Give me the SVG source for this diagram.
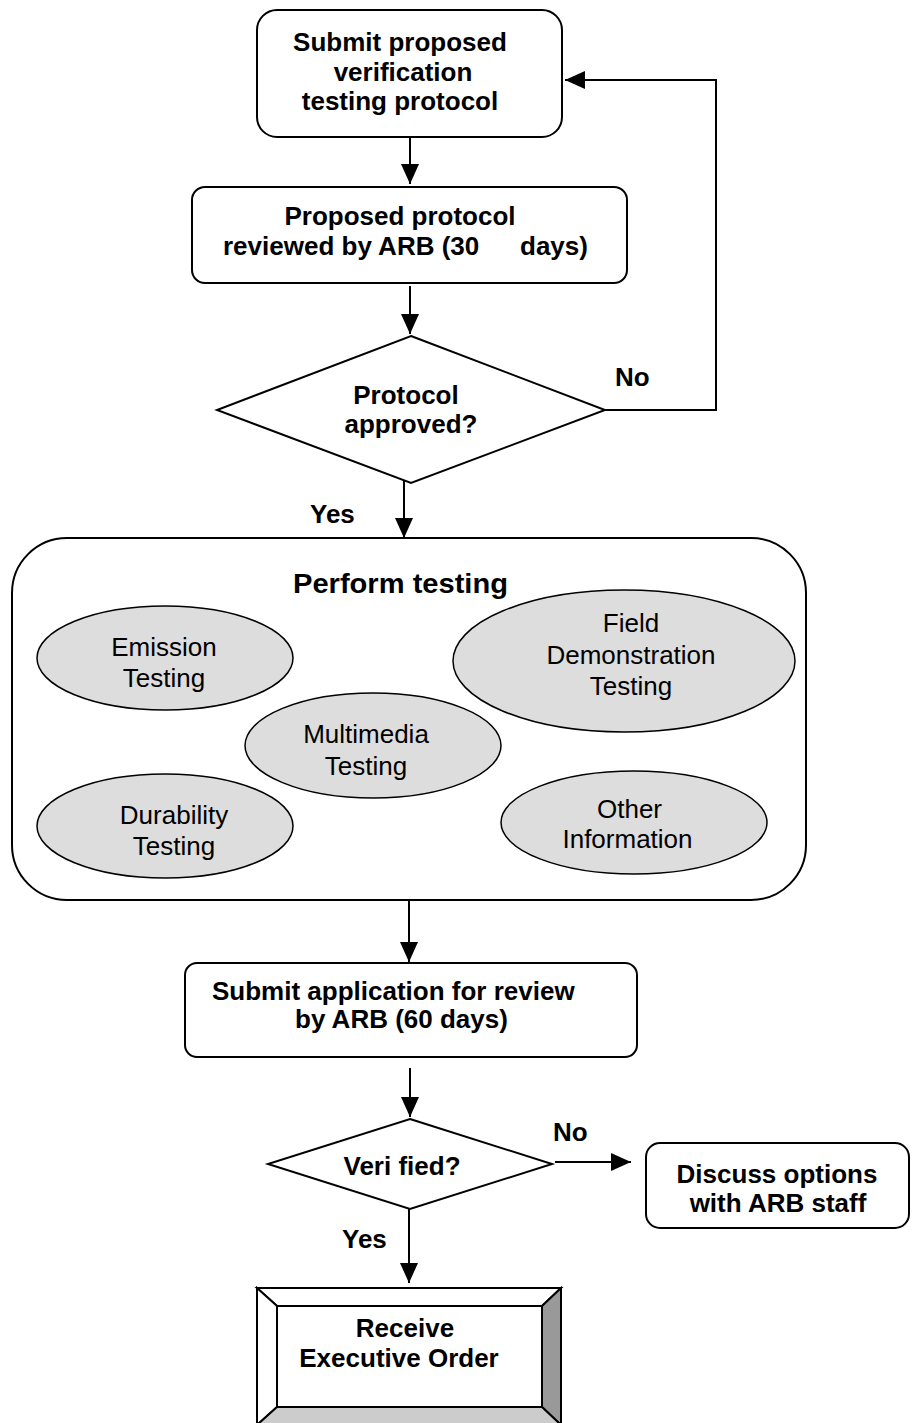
<svg xmlns="http://www.w3.org/2000/svg" width="914" height="1423" viewBox="0 0 914 1423">
<style>
  .box{fill:#fff;stroke:#000;stroke-width:2}
  .ell{fill:#dddddd;stroke:#000;stroke-width:1.5}
  .b{font-family:"Liberation Sans",Arial,sans-serif;font-weight:bold;font-size:26px;fill:#000}
  .r{font-family:"Liberation Sans",Arial,sans-serif;font-size:26px;fill:#000}
  .c{text-anchor:middle}
  .ln{fill:none;stroke:#000;stroke-width:2}
</style>
<defs>
  <marker id="ah" markerUnits="userSpaceOnUse" markerWidth="20" markerHeight="20" viewBox="0 0 20 20" refX="20" refY="10" orient="auto">
    <path d="M0,1 L20,10 L0,19 Z" fill="#000"/>
  </marker>
</defs>
<rect width="914" height="1423" fill="#fff"/>

<g id="connectors">
  <line class="ln" x1="410" y1="137" x2="410" y2="184" marker-end="url(#ah)"/>
  <line class="ln" x1="410" y1="286" x2="410" y2="334" marker-end="url(#ah)"/>
  <polyline class="ln" points="605,410 716,410 716,80 565,80" marker-end="url(#ah)"/>
  <line class="ln" x1="404" y1="476" x2="404" y2="538" marker-end="url(#ah)"/>
  <line class="ln" x1="409" y1="900" x2="409" y2="962" marker-end="url(#ah)"/>
  <line class="ln" x1="410" y1="1068" x2="410" y2="1117" marker-end="url(#ah)"/>
  <line class="ln" x1="555" y1="1162" x2="631" y2="1162" marker-end="url(#ah)"/>
  <line class="ln" x1="409" y1="1209" x2="409" y2="1283" marker-end="url(#ah)"/>
  <text class="b" x="615" y="386">No</text>
  <text class="b" x="310" y="523">Yes</text>
  <text class="b" x="553" y="1141">No</text>
  <text class="b" x="342" y="1248">Yes</text>
</g>

<g id="submit-protocol">
  <rect class="box" x="257" y="10" width="305" height="127" rx="20"/>
  <text class="b c" x="400" y="51">Submit proposed</text>
  <text class="b c" x="403" y="81">verification</text>
  <text class="b c" x="400" y="110">testing protocol</text>
</g>

<g id="review-protocol">
  <rect class="box" x="192" y="187" width="435" height="96" rx="13"/>
  <text class="b c" x="400" y="225">Proposed protocol</text>
  <text class="b" x="223" y="255">reviewed by ARB (30</text>
  <text class="b" x="520" y="255">days)</text>
</g>

<g id="protocol-approved">
  <polygon class="box" points="411,336 605,410 411,483 217,410"/>
  <text class="b c" x="406" y="404">Protocol</text>
  <text class="b c" x="411" y="433">approved?</text>
</g>

<g id="perform-testing">
  <rect class="box" x="12" y="538" width="794" height="362" rx="55"/>
  <text class="b" x="293" y="593" style="font-size:27px" textLength="215" lengthAdjust="spacingAndGlyphs">Perform testing</text>
  <g id="emission">
    <ellipse class="ell" cx="165" cy="658" rx="128" ry="52"/>
    <text class="r c" x="164" y="656">Emission</text>
    <text class="r c" x="164" y="687">Testing</text>
  </g>
  <g id="field">
    <ellipse class="ell" cx="624" cy="661" rx="171" ry="71"/>
    <text class="r c" x="631" y="632">Field</text>
    <text class="r c" x="631" y="664">Demonstration</text>
    <text class="r c" x="631" y="695">Testing</text>
  </g>
  <g id="multimedia">
    <ellipse class="ell" cx="373" cy="745.5" rx="128" ry="52.5"/>
    <text class="r c" x="366" y="743">Multimedia</text>
    <text class="r c" x="366" y="775">Testing</text>
  </g>
  <g id="durability">
    <ellipse class="ell" cx="165" cy="826" rx="128" ry="52"/>
    <text class="r c" x="174" y="824">Durability</text>
    <text class="r c" x="174" y="855">Testing</text>
  </g>
  <g id="other">
    <ellipse class="ell" cx="634" cy="822.5" rx="133" ry="51.5"/>
    <text class="r c" x="629.5" y="818">Other</text>
    <text class="r c" x="627.5" y="848">Information</text>
  </g>
</g>

<g id="submit-application">
  <rect class="box" x="185" y="963" width="452" height="94" rx="12"/>
  <text class="b" x="212" y="1000">Submit application for review</text>
  <text class="b" x="295" y="1028">by ARB (60 days)</text>
</g>

<g id="verified">
  <polygon class="box" points="410,1119 552,1164 410,1209 268,1164"/>
  <text class="b c" x="402" y="1175">Veri fied?</text>
</g>

<g id="discuss">
  <rect class="box" x="646" y="1143" width="263" height="85" rx="14"/>
  <text class="b c" x="777" y="1183">Discuss options</text>
  <text class="b c" x="778" y="1212">with ARB staff</text>
</g>

<g id="executive-order">
  <polygon points="257,1288 561,1288 542,1306 277,1306" fill="#fff" stroke="#000" stroke-width="2"/>
  <polygon points="257,1288 277,1306 277,1407 257,1425" fill="#fff" stroke="#000" stroke-width="2"/>
  <polygon points="561,1288 561,1425 542,1407 542,1306" fill="#999999" stroke="#000" stroke-width="2"/>
  <polygon points="257,1425 277,1407 542,1407 561,1425" fill="#cccccc" stroke="#000" stroke-width="2"/>
  <rect x="277" y="1306" width="265" height="101" fill="#fff" stroke="#000" stroke-width="2"/>
  <text class="b c" x="405" y="1337">Receive</text>
  <text class="b c" x="399" y="1367">Executive Order</text>
</g>
</svg>
